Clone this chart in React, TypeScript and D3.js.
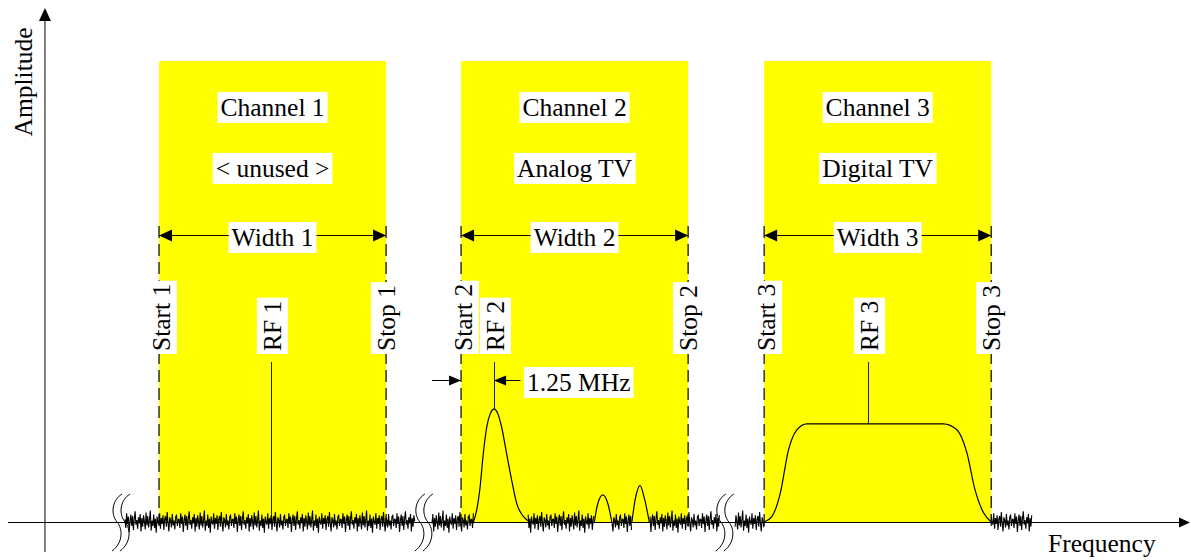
import React, { useEffect, useRef } from 'react';
import * as d3 from 'd3';

const CHANNEL_NAMES = ['Channel 1', 'Channel 2', 'Channel 3'];
const CHANNEL_USES = ['< unused >', 'Analog TV', 'Digital TV'];
const WIDTH_LABELS = ['Width 1', 'Width 2', 'Width 3'];
const START_LABELS = ['Start 1', 'Start 2', 'Start 3'];
const STOP_LABELS = ['Stop 1', 'Stop 2', 'Stop 3'];
const RF_LABELS = ['RF 1', 'RF 2', 'RF 3'];
const CHANNEL_START = [5.72, 17.16, 28.64];
const CHANNEL_SPAN = 8.6;
const RF_OFFSET = [4.24, 1.25, 3.94];
const RF_LEVEL = [0, 24.5, 21.3];

// analog TV (offsets from channel 2 start, amplitude)
const ANALOG_CARRIER: [number, number][] = [
  [0.47, 0], [0.59, 2.5], [0.72, 7.5], [0.84, 14.7], [0.97, 20.5], [1.1, 23.4], [1.25, 24.5],
  [1.4, 23.4], [1.54, 20.5], [1.73, 14.7], [1.92, 9.0], [2.11, 4.0], [2.36, 1.2], [2.61, 0],
];
const ANALOG_SUB1: [number, number][] = [[5.05, 0], [5.17, 3.8], [5.37, 5.9], [5.57, 3.8], [5.71, 0]];
const ANALOG_SUB2: [number, number][] = [[6.47, 0], [6.6, 5.0], [6.78, 7.9], [6.95, 5.0], [7.13, 0]];
// digital TV (offsets from channel 3 start, amplitude)
const DIGITAL_SPECTRUM: [number, number][] = [
  [0, 0], [0.29, 1.15], [0.61, 6.2], [0.92, 15.6], [1.24, 20.0], [1.62, 21.3],
  [6.79, 21.3], [7.3, 20.0], [7.68, 15.0], [7.99, 6.9], [8.31, 2.0], [8.6, 0],
];
const NOISE_PATTERN = [
  0.4, -0.9, 1.3, -0.3, 0.8, -1.5, 0.2, 1.1, -0.6, 0.9, -1.2, 0.5, 1.6, -0.4, 0.3, -1.0,
  0.7, -0.2, 1.2, -1.4, 0.6, -0.7, 1.0, 0.1, -1.1, 1.4, -0.5, 0.9, -0.8, 0.3, 1.7, -1.3,
  0.2, -0.6, 1.1, -0.9, 0.5, -1.6, 0.8, 0.0, -0.4, 1.3, -1.0, 0.6, -0.3, 1.0, -1.2, 0.4,
  0.9, -0.7, 1.5, -0.2, -1.4, 0.7, 0.3, -0.8, 1.2, -0.5, 0.2, -1.1, 0.8, 1.0, -0.6, 0.4,
];
const NOISE_SEGMENTS: [number, number][] = [
  [4.43, 15.42], [16.06, 17.65], [19.7, 22.2], [22.88, 23.64], [24.32, 26.97], [27.54, 28.64], [37.24, 38.79],
];
const AXIS_BREAKS = [4.13, 15.6, 27.0];
const OFFSET_LABEL = '1.25 MHz';
const X_LABEL = 'Frequency';
const Y_LABEL = 'Amplitude';

const FONT = '"Liberation Serif", "Times New Roman", serif';
const FS = 25.5;

const App = () => {
  const ref = useRef<SVGSVGElement>(null);
  useEffect(() => {
    const svg = d3.select(ref.current as SVGSVGElement);
    svg.selectAll('*').remove();
    const x = d3.scaleLinear().domain([0, 44.77]).range([8, 1190]);
    const y = d3.scaleLinear().domain([0, 100]).range([522, 61]);
    const base = y(0);

    const arrowHead = (g: any, tx: number, ty: number, dir: 'l' | 'r' | 'u', len: number, half: number) => {
      let p = '';
      if (dir === 'r') p = `M${tx},${ty}L${tx - len},${ty - half}L${tx - len},${ty + half}Z`;
      if (dir === 'l') p = `M${tx},${ty}L${tx + len},${ty - half}L${tx + len},${ty + half}Z`;
      if (dir === 'u') p = `M${tx},${ty}L${tx - half},${ty + len}L${tx + half},${ty + len}Z`;
      g.append('path').attr('d', p).attr('fill', '#000');
    };

    const boxed = (g: any, px: number, py: number, text: string, rotate: boolean, anchor: string) => {
      const grp = g.append('g').attr('transform', rotate ? `translate(${px},${py}) rotate(-90)` : `translate(${px},${py})`);
      const rect = grp.append('rect').attr('fill', '#fff');
      const t = grp.append('text')
        .attr('text-anchor', anchor).attr('dy', '0.35em')
        .attr('font-family', FONT).attr('font-size', FS).attr('fill', '#000')
        .text(text);
      const bb = (t.node() as SVGTextElement).getBBox();
      rect.attr('x', bb.x - 3).attr('y', bb.y - 1).attr('width', bb.width + 6).attr('height', bb.height + 2);
    };

    const gRect = svg.append('g');
    const gLines = svg.append('g');
    const gSig = svg.append('g');
    const gLab = svg.append('g');

    // channel rectangles
    CHANNEL_START.forEach((s) => {
      gRect.append('rect')
        .attr('x', x(s)).attr('y', y(100))
        .attr('width', x(s + CHANNEL_SPAN) - x(s)).attr('height', y(0) - y(100))
        .attr('fill', '#ffff00');
    });

    // axes
    const yAxisX = x(1.4);
    gLines.append('line').attr('x1', x(0)).attr('x2', x(44.77) - 6).attr('y1', base + 0.5).attr('y2', base + 0.5)
      .attr('stroke', '#000').attr('stroke-width', 1);
    arrowHead(gLines, x(44.77), base + 0.5, 'r', 11, 5);
    gLines.append('line').attr('x1', yAxisX).attr('x2', yAxisX).attr('y1', 552).attr('y2', 16)
      .attr('stroke', '#000').attr('stroke-width', 1);
    arrowHead(gLines, yAxisX, 8, 'u', 13, 6);

    // dashed start/stop lines
    CHANNEL_START.forEach((s) => {
      [s, s + CHANNEL_SPAN].forEach((v) => {
        gLines.append('line').attr('x1', x(v)).attr('x2', x(v)).attr('y1', 226).attr('y2', 530)
          .attr('stroke', '#000').attr('stroke-width', 1.2).attr('stroke-dasharray', '12,6');
      });
    });

    // noise
    const NOISE_GAIN = 1.45;
    const lineGen = d3.line<[number, number]>().x((d) => x(d[0])).y((d) => y(d[1]));
    NOISE_SEGMENTS.forEach((seg, si) => {
      const pts: [number, number][] = [];
      let i = si * 17;
      for (let u = seg[0]; u <= seg[1] + 1e-9; u += 0.032) {
        pts.push([u, NOISE_GAIN * NOISE_PATTERN[i % NOISE_PATTERN.length]]);
        i += 1;
      }
      gSig.append('path').attr('d', lineGen(pts)).attr('fill', 'none').attr('stroke', '#000').attr('stroke-width', 1.1);
    });

    // signals
    const curve = d3.line<[number, number]>().x((d) => x(d[0])).y((d) => y(d[1])).curve(d3.curveMonotoneX);
    const c2 = CHANNEL_START[1];
    const c3 = CHANNEL_START[2];
    [ANALOG_CARRIER, ANALOG_SUB1, ANALOG_SUB2].forEach((arr) => {
      gSig.append('path').attr('d', curve(arr.map((d) => [c2 + d[0], d[1]] as [number, number])))
        .attr('fill', 'none').attr('stroke', '#000').attr('stroke-width', 1.2);
    });
    gSig.append('path').attr('d', curve(DIGITAL_SPECTRUM.map((d) => [c3 + d[0], d[1]] as [number, number])))
      .attr('fill', 'none').attr('stroke', '#000').attr('stroke-width', 1.2);

    // break marks
    AXIS_BREAKS.forEach((b) => {
      [0, 8].forEach((dx) => {
        const cx = x(b) + dx;
        gSig.append('path')
          .attr('d', `M${cx + 5},494 C${cx - 6},501 ${cx - 6},515 ${cx},522 C${cx + 6},529 ${cx + 6},543 ${cx - 5},551`)
          .attr('fill', 'none').attr('stroke', '#000').attr('stroke-width', 1);
      });
    });

    // RF lines
    CHANNEL_START.forEach((s, i) => {
      const rx = Math.round(x(s + RF_OFFSET[i])) + 0.5;
      gLines.append('line').attr('x1', rx).attr('x2', rx).attr('y1', 362).attr('y2', y(RF_LEVEL[i]))
        .attr('stroke', '#222').attr('stroke-width', 1);
    });

    // width arrows and labels
    CHANNEL_START.forEach((s, i) => {
      const x0 = x(s);
      const x1 = x(s + CHANNEL_SPAN);
      const cx = (x0 + x1) / 2;
      gLab.append('line').attr('x1', x0).attr('x2', x1).attr('y1', 235.5).attr('y2', 235.5)
        .attr('stroke', '#000').attr('stroke-width', 1);
      arrowHead(gLab, x0, 235.5, 'l', 13, 6);
      arrowHead(gLab, x1, 235.5, 'r', 13, 6);
      boxed(gLab, cx, 107, CHANNEL_NAMES[i], false, 'middle');
      boxed(gLab, cx, 168, CHANNEL_USES[i], false, 'middle');
      boxed(gLab, cx, 237, WIDTH_LABELS[i], false, 'middle');
      boxed(gLab, x0 + 2, 351, START_LABELS[i], true, 'start');
      boxed(gLab, x1, 351, STOP_LABELS[i], true, 'start');
      boxed(gLab, x(s + RF_OFFSET[i]) + 1, 351, RF_LABELS[i], true, 'start');
    });

    // 1.25 MHz annotation
    const s2x = x(c2);
    const rf2x = x(c2 + RF_OFFSET[1]);
    gLab.append('line').attr('x1', x(c2 - 1.1)).attr('x2', s2x - 4).attr('y1', 380.5).attr('y2', 380.5)
      .attr('stroke', '#000').attr('stroke-width', 1);
    arrowHead(gLab, s2x, 380.5, 'r', 12, 5);
    gLab.append('line').attr('x1', rf2x + 4).attr('x2', x(c2 + RF_OFFSET[1] + 1.0)).attr('y1', 380.5).attr('y2', 380.5)
      .attr('stroke', '#000').attr('stroke-width', 1);
    arrowHead(gLab, rf2x, 380.5, 'l', 12, 5);
    boxed(gLab, x(c2 + RF_OFFSET[1] + 1.25), 382, OFFSET_LABEL, false, 'start');

    // axis titles
    gLab.append('text').attr('x', 1048).attr('y', 552)
      .attr('font-family', FONT).attr('font-size', FS).attr('fill', '#000').text(X_LABEL);
    gLab.append('text').attr('transform', 'translate(23,82) rotate(-90)')
      .attr('text-anchor', 'middle').attr('dy', '0.35em')
      .attr('font-family', FONT).attr('font-size', FS).attr('fill', '#000').text(Y_LABEL);
  }, []);
  return (
    <svg ref={ref} width={1191} height={560}
      style={{ position: 'absolute', left: 0, top: 0, background: '#fff' }} />
  );
};

export default App;
